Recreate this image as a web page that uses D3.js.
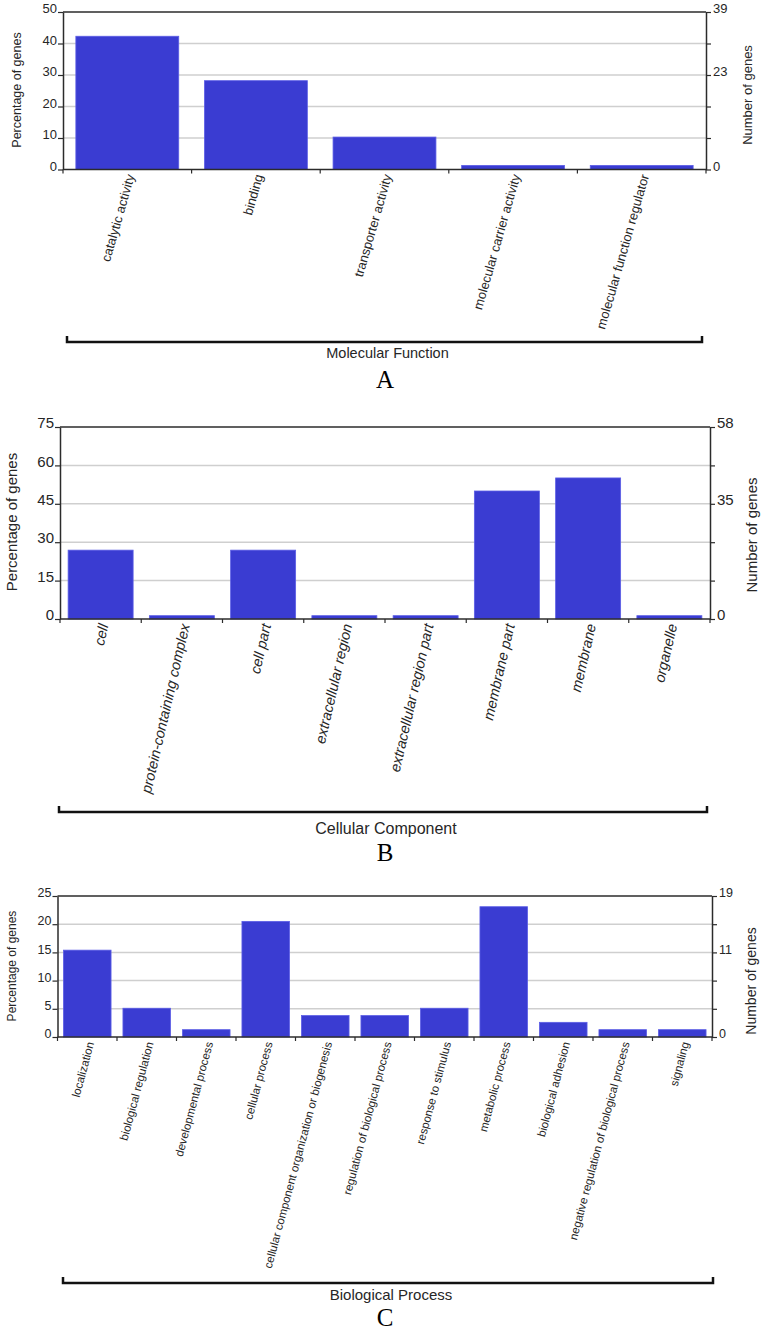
<!DOCTYPE html>
<html lang="en">
<head>
<meta charset="UTF-8" />
<title>GO classification of genes</title>
<script src="https://d3js.org/d3.v7.min.js"></script>
<style>
  body { margin: 0; background: #fff; }
  svg { display: block; font-family: "Liberation Sans", Arial, sans-serif; }
</style>
</head>
<body>
<svg id="chart" width="764" height="1332"></svg>
<script>
// ---- data ----
const mfCategories = ["catalytic activity", "binding", "transporter activity",
  "molecular carrier activity", "molecular function regulator"];
const mfPercent = [42.3, 28.2, 10.3, 1.3, 1.3];
const mfTicks = [0, 10, 20, 30, 40, 50];
const mfGenePos = [0, 30, 50];
const mfGeneLabels = ["0", "23", "39"];

const ccCategories = ["cell", "protein-containing complex", "cell part", "extracellular region",
  "extracellular region part", "membrane part", "membrane", "organelle"];
const ccPercent = [26.9, 1.3, 26.9, 1.3, 1.3, 50.0, 55.1, 1.3];
const ccTicks = [0, 15, 30, 45, 60, 75];
const ccGenePos = [0, 45, 75];
const ccGeneLabels = ["0", "35", "58"];

const bpCategories = ["localization", "biological regulation", "developmental process",
  "cellular process", "cellular component organization or biogenesis",
  "regulation of biological process", "response to stimulus", "metabolic process",
  "biological adhesion", "negative regulation of biological process", "signaling"];
const bpPercent = [15.4, 5.1, 1.3, 20.5, 3.8, 3.8, 5.1, 23.1, 2.6, 1.3, 1.3];
const bpTicks = [0, 5, 10, 15, 20, 25];
const bpGenePos = [0, 15, 25];
const bpGeneLabels = ["0", "11", "19"];

const svg = d3.select("#chart");
const barColor = "#3a3cd2";
const axisColor = "#2b2b2b";
const textColor = "#262626";

function drawPanel(p) {
  const g = svg.append("g");
  const x = d3.scaleBand().domain(p.categories).range([p.x0, p.x1])
    .paddingInner(0.2).paddingOuter(0.1);
  const y = d3.scaleLinear().domain([0, d3.max(p.ticks)]).range([p.y1, p.y0]);
  const yMax = d3.max(p.ticks);

  // grid
  g.append("g").selectAll("line")
    .data(p.ticks.filter(t => t > 0 && t < yMax))
    .join("line")
    .attr("x1", p.x0).attr("x2", p.x1)
    .attr("y1", d => y(d)).attr("y2", d => y(d))
    .attr("stroke", "#cfcfcf").attr("stroke-width", 1.5);

  // bars
  g.append("g").selectAll("rect")
    .data(p.categories)
    .join("rect")
    .attr("x", d => x(d))
    .attr("width", x.bandwidth())
    .attr("y", (d, i) => y(p.values[i]))
    .attr("height", (d, i) => y(0) - y(p.values[i]))
    .attr("fill", barColor)
    .attr("stroke", "#5c5ee6").attr("stroke-width", 0.8);

  // top border
  g.append("line")
    .attr("x1", p.x0).attr("x2", p.x1)
    .attr("y1", y(yMax)).attr("y2", y(yMax))
    .attr("stroke", axisColor).attr("stroke-width", 1.5);

  // left axis
  const left = g.append("g").attr("transform", `translate(${p.x0},0)`)
    .call(d3.axisLeft(y).tickValues(p.ticks).tickSize(5).tickSizeOuter(0).tickPadding(1));
  // right axis
  const right = g.append("g").attr("transform", `translate(${p.x1},0)`)
    .call(d3.axisRight(y).tickValues(p.ticks).tickSize(5).tickSizeOuter(0).tickPadding(2)
      .tickFormat(v => {
        const i = p.genePos.indexOf(v);
        return i < 0 ? "" : p.geneLabels[i];
      }));
  [left, right].forEach(a => {
    a.select(".domain").attr("stroke", axisColor).attr("stroke-width", 1.5);
    a.selectAll(".tick line").attr("stroke", axisColor).attr("stroke-width", 1.2);
    a.selectAll(".tick text").attr("fill", textColor)
      .style("font-size", p.tickFont + "px").attr("dy", "0.05em");
  });

  // bottom axis with ticks at category boundaries
  const edge = x.step() * x.paddingInner() / 2;
  const bounds = p.categories.map(d => x(d) - edge).concat([p.x1]);
  g.append("line")
    .attr("x1", p.x0).attr("x2", p.x1)
    .attr("y1", y(0)).attr("y2", y(0))
    .attr("stroke", axisColor).attr("stroke-width", 1.5);
  g.append("g").selectAll("line")
    .data(bounds)
    .join("line")
    .attr("x1", d => d).attr("x2", d => d)
    .attr("y1", y(0)).attr("y2", y(0) + 4)
    .attr("stroke", axisColor).attr("stroke-width", 1.2);

  // category labels
  g.append("g").selectAll("text")
    .data(p.categories)
    .join("text")
    .attr("transform", d => `translate(${x(d) + x.bandwidth() / 2 + 3},${y(0) + 5}) rotate(${p.angle})`)
    .attr("text-anchor", "end")
    .attr("dy", "0.35em")
    .attr("fill", textColor)
    .style("font-family", p.labelFamily)
    .style("font-style", p.labelStyle)
    .style("font-size", p.labelFont + "px")
    .text(d => d);

  // axis titles
  g.append("text")
    .attr("transform", `translate(${p.leftTitle[0]},${p.leftTitle[1]}) rotate(-90)`)
    .attr("text-anchor", "middle").attr("dy", "0.35em")
    .attr("fill", textColor).style("font-size", p.leftTitle[2] + "px")
    .text("Percentage of genes");
  g.append("text")
    .attr("transform", `translate(${p.rightTitle[0]},${p.rightTitle[1]}) rotate(-90)`)
    .attr("text-anchor", "middle").attr("dy", "0.35em")
    .attr("fill", textColor).style("font-size", p.rightTitle[2] + "px")
    .text("Number of genes");

  // bracket
  const b = p.bracket;
  g.append("path")
    .attr("d", `M${b[0]},${b[2] - 6}V${b[2]}H${b[1]}V${b[2] - 6}`)
    .attr("fill", "none").attr("stroke", "#111").attr("stroke-width", 2.5);
  g.append("text")
    .attr("x", (b[0] + b[1]) / 2 + 3).attr("y", p.groupY)
    .attr("text-anchor", "middle").attr("dy", "0.35em")
    .attr("fill", textColor).style("font-size", p.groupFont + "px")
    .text(p.group);
  g.append("text")
    .attr("x", 385).attr("y", p.letterY)
    .attr("text-anchor", "middle").attr("dy", "0.35em")
    .attr("fill", "#000")
    .style("font-family", "'Liberation Serif', 'Times New Roman', serif")
    .style("font-size", "25px")
    .text(p.letter);
}

const narrow = "'Liberation Sans Narrow', 'Arial Narrow', 'Liberation Sans', sans-serif";

drawPanel({
  categories: mfCategories, values: mfPercent, ticks: mfTicks,
  genePos: mfGenePos, geneLabels: mfGeneLabels,
  x0: 63, x1: 706, y0: 12, y1: 169.5,
  tickFont: 13, labelFont: 13, labelFamily: narrow, labelStyle: "normal", angle: -74,
  leftTitle: [17, 90, 12.5], rightTitle: [747, 95, 13],
  bracket: [67, 702, 342], group: "Molecular Function", groupY: 353, groupFont: 14.5,
  letter: "A", letterY: 379
});

drawPanel({
  categories: ccCategories, values: ccPercent, ticks: ccTicks,
  genePos: ccGenePos, geneLabels: ccGeneLabels,
  x0: 60, x1: 710, y0: 427, y1: 619,
  tickFont: 15, labelFont: 14.5, labelFamily: "'Liberation Sans', Arial, sans-serif",
  labelStyle: "italic", angle: -77,
  leftTitle: [12, 522, 15], rightTitle: [752, 535, 15],
  bracket: [59, 707, 812], group: "Cellular Component", groupY: 828, groupFont: 16,
  letter: "B", letterY: 852
});

drawPanel({
  categories: bpCategories, values: bpPercent, ticks: bpTicks,
  genePos: bpGenePos, geneLabels: bpGeneLabels,
  x0: 57.5, x1: 712, y0: 896, y1: 1037,
  tickFont: 12.5, labelFont: 11.5, labelFamily: narrow, labelStyle: "normal", angle: -75,
  leftTitle: [12, 966, 12], rightTitle: [751, 981, 14],
  bracket: [63, 713, 1283], group: "Biological Process", groupY: 1295, groupFont: 15,
  letter: "C", letterY: 1317
});
</script>
</body>
</html>
